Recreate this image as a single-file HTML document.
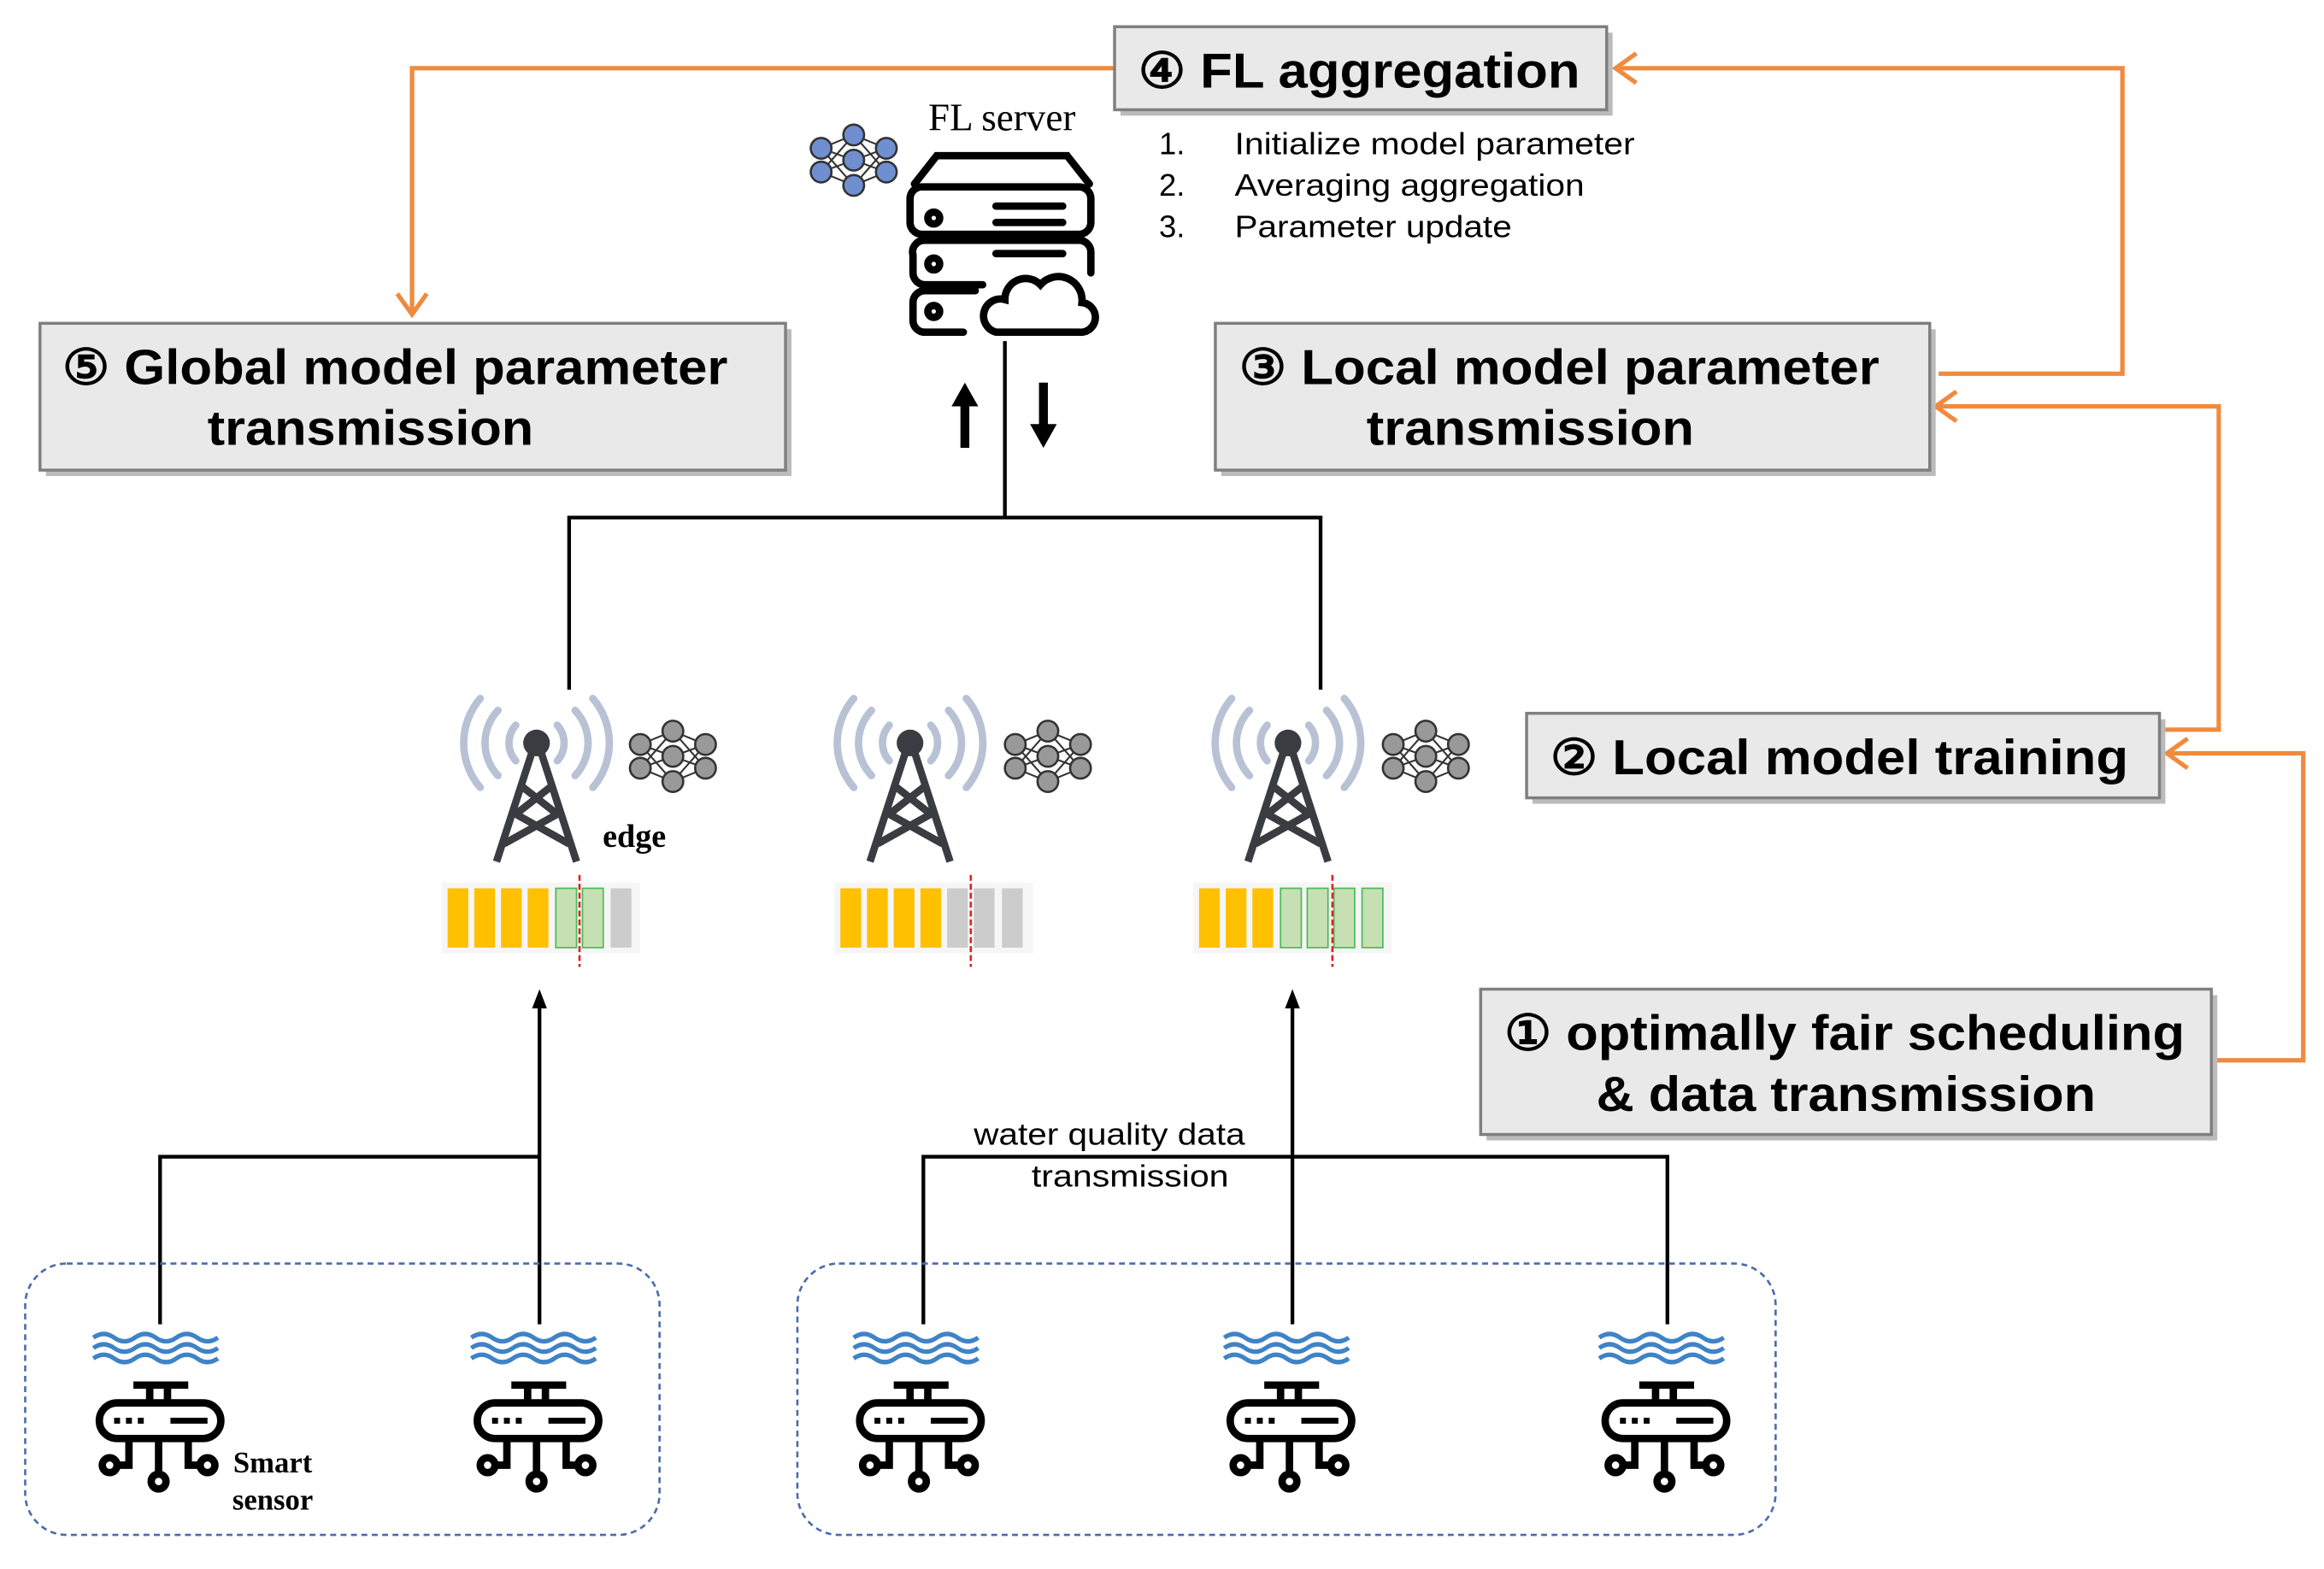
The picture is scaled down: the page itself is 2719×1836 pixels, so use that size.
<!DOCTYPE html>
<html><head><meta charset="utf-8"><style>
html,body{margin:0;padding:0;background:#fff;}
svg{display:block;}
.b{font-family:"Liberation Sans",sans-serif;font-weight:bold;fill:#000;}
.s{font-family:"Liberation Sans",sans-serif;fill:#000;}
.r{font-family:"Liberation Serif",serif;fill:#000;}
</style></head><body>
<svg width="2719" height="1836" viewBox="0 0 1568 1058" preserveAspectRatio="none" xmlns="http://www.w3.org/2000/svg">
<defs>
<g id="nn">
 <g stroke="#333" stroke-width="1.2">
  <line x1="-22" y1="-8" x2="0" y2="-17"/><line x1="-22" y1="-8" x2="0" y2="0"/><line x1="-22" y1="-8" x2="0" y2="17"/>
  <line x1="-22" y1="8" x2="0" y2="-17"/><line x1="-22" y1="8" x2="0" y2="0"/><line x1="-22" y1="8" x2="0" y2="17"/>
  <line x1="22" y1="-8" x2="0" y2="-17"/><line x1="22" y1="-8" x2="0" y2="0"/><line x1="22" y1="-8" x2="0" y2="17"/>
  <line x1="22" y1="8" x2="0" y2="-17"/><line x1="22" y1="8" x2="0" y2="0"/><line x1="22" y1="8" x2="0" y2="17"/>
 </g>
 <g stroke="#333" stroke-width="1.5">
  <circle cx="-22" cy="-8" r="7"/><circle cx="-22" cy="8" r="7"/>
  <circle cx="0" cy="-17" r="7"/><circle cx="0" cy="0" r="7"/><circle cx="0" cy="17" r="7"/>
  <circle cx="22" cy="-8" r="7"/><circle cx="22" cy="8" r="7"/>
 </g>
</g>
<g id="tower">
 <g fill="none" stroke="#b8c2d4" stroke-width="5" stroke-linecap="round">
  <path d="M-14,-12 A18,18 0 0 0 -14,12"/><path d="M14,-12 A18,18 0 0 1 14,12"/>
  <path d="M-26,-22 A32,32 0 0 0 -26,22"/><path d="M26,-22 A32,32 0 0 1 26,22"/>
  <path d="M-38,-30 A46,46 0 0 0 -38,30"/><path d="M38,-30 A46,46 0 0 1 38,30"/>
 </g>
 <circle cx="0" cy="0" r="9" fill="#3a3c42"/>
 <g stroke="#3a3c42" stroke-width="5" fill="none" stroke-linejoin="round">
  <path d="M-3,6 L-27,80 M3,6 L27,80"/>
  <path d="M-9,30 L14,48 M9,30 L-14,48 M-14,48 L22,68 M14,48 L-22,68"/>
 </g>
</g>
<g id="sensor">
 <g fill="none" stroke="#3f83c6" stroke-width="3">
  <path d="M-44,-62 q7,-5 14,0 t14,0 t14,0 t14,0 t14,0 t14,0"/>
  <path d="M-44,-55 q7,-5 14,0 t14,0 t14,0 t14,0 t14,0 t14,0"/>
  <path d="M-44,-48 q7,-5 14,0 t14,0 t14,0 t14,0 t14,0 t14,0"/>
 </g>
 <g fill="none" stroke="#000" stroke-width="5">
  <line x1="-17" y1="-30" x2="20" y2="-30"/>
  <line x1="-6" y1="-30" x2="-6" y2="-18"/><line x1="6" y1="-30" x2="6" y2="-18"/>
  <rect x="-40" y="-18" width="82" height="24" rx="12"/>
  <path d="M-20,6 V24 H-28"/><path d="M0,6 V30"/><path d="M20,6 V24 H28"/>
  <circle cx="-33" cy="24" r="5"/><circle cx="0" cy="35" r="5"/><circle cx="33" cy="24" r="5"/>
 </g>
 <g fill="#000"><rect x="-30" y="-8" width="4" height="4"/><rect x="-22" y="-8" width="4" height="4"/><rect x="-14" y="-8" width="4" height="4"/><rect x="8" y="-8" width="25" height="4"/></g>
</g>
</defs>

<g fill="none" stroke="#f08a3e" stroke-width="3">
 <path d="M752,46 H278 V212"/><path d="M268,198 L278,212 L288,198"/>
 <path d="M1308,252 H1432 V46 H1090"/><path d="M1104,36 L1090,46 L1104,56"/>
 <path d="M1458,492 H1497 V274 H1306"/><path d="M1320,264 L1306,274 L1320,284"/>
 <path d="M1492,715 H1554 V508 H1462"/><path d="M1476,498 L1462,508 L1476,518"/>
</g>

<g fill="#bbb"><rect x="756" y="22" width="332" height="56"/><rect x="31" y="222" width="503" height="99"/><rect x="824" y="222" width="482" height="99"/><rect x="1034" y="485" width="427" height="57"/><rect x="1003" y="671" width="493" height="98"/></g>
<g fill="#e9e9e9" stroke="#7f7f7f" stroke-width="2">
 <rect x="752" y="18" width="332" height="56"/><rect x="27" y="218" width="503" height="99"/><rect x="820" y="218" width="482" height="99"/><rect x="1030" y="481" width="427" height="57"/><rect x="999" y="667" width="493" height="98"/>
</g>
<g class="b" font-size="33" lengthAdjust="spacingAndGlyphs">
<text x="768" y="59" textLength="298" lengthAdjust="spacingAndGlyphs">④ FL aggregation</text>
<text x="42" y="259" textLength="449" lengthAdjust="spacingAndGlyphs">⑤ Global model parameter</text>
<text x="140" y="300" textLength="220" lengthAdjust="spacingAndGlyphs">transmission</text>
<text x="836" y="259" textLength="432" lengthAdjust="spacingAndGlyphs">③ Local model parameter</text>
<text x="922" y="300" textLength="221" lengthAdjust="spacingAndGlyphs">transmission</text>
<text x="1046" y="522" textLength="390" lengthAdjust="spacingAndGlyphs">② Local model training</text>
<text x="1015" y="708" textLength="459" lengthAdjust="spacingAndGlyphs">① optimally fair scheduling</text>
<text x="1077" y="749" textLength="337" lengthAdjust="spacingAndGlyphs">&amp; data transmission</text>
</g>

<g class="s" font-size="21"><text x="782" y="104">1.</text><text x="833" y="104" textLength="270" lengthAdjust="spacingAndGlyphs">Initialize model parameter</text>
<text x="782" y="132">2.</text><text x="833" y="132" textLength="236" lengthAdjust="spacingAndGlyphs">Averaging aggregation</text>
<text x="782" y="160">3.</text><text x="833" y="160" textLength="187" lengthAdjust="spacingAndGlyphs">Parameter update</text></g>

<text class="r" x="676" y="88" font-size="26" text-anchor="middle">FL server</text>
<g transform="translate(576,108)" fill="#6f8fd0"><use href="#nn"/></g>
<g fill="none" stroke="#000" stroke-width="5" stroke-linecap="round">
 <path d="M617,124 L632,105 H720 L735,124"/>
 <rect x="614" y="126" width="122" height="32" rx="8"/>
 <path d="M616,172 a8,8 0 0 1 8,-10 H728 a8,8 0 0 1 8,8 V184"/>
 <path d="M663,192 H624 a8,8 0 0 1 -8,-8 V172"/>
 <path d="M658,196 H624 a8,8 0 0 0 -8,8 V216 a8,8 0 0 0 8,8 H650"/>
 <circle cx="630" cy="147" r="4"/><circle cx="630" cy="178" r="4"/><circle cx="630" cy="210" r="4"/>
 <path d="M672,139 H717 M672,150 H717 M672,171 H717"/>
 <path d="M672,224 H728 a10,10 0 0 0 2,-20 a16,16 0 0 0 -28,-12 a14,14 0 0 0 -24,10 a11,11 0 0 0 -6,22 Z"/>
</g>
<g fill="#000"><rect x="648" y="272" width="6" height="30"/><path d="M642,274 L651,258 L660,274 Z"/>
<rect x="701" y="258" width="6" height="30"/><path d="M695,286 L704,302 L713,286 Z"/></g>

<g fill="none" stroke="#000" stroke-width="2.5">
 <path d="M678,230 V349 M384,465 V349 H891 V465"/>
 <path d="M364,893 V676 M108,893 V780 H364"/>
 <path d="M872,893 V676 M623,893 V780 H1125 V893"/>
</g>
<path d="M359,680 L364,667 L369,680 Z M867,680 L872,667 L877,680 Z" fill="#000"/>
<text class="s" x="657" y="772" font-size="21" textLength="183" lengthAdjust="spacingAndGlyphs">water quality data</text>
<text class="s" x="696" y="800" font-size="21" textLength="133" lengthAdjust="spacingAndGlyphs">transmission</text>

<use href="#tower" transform="translate(362,501)"/>
<use href="#tower" transform="translate(614,501)"/>
<use href="#tower" transform="translate(869,501)"/>
<g fill="#999"><use href="#nn" transform="translate(454,510)"/><use href="#nn" transform="translate(707,510)"/><use href="#nn" transform="translate(962,510)"/></g>
<text class="r" x="428" y="571" font-size="22" font-weight="bold" text-anchor="middle">edge</text>

<g>
 <rect x="298" y="595" width="134" height="48" fill="#f6f6f6"/>
 <rect x="302" y="599" width="14" height="40" fill="#ffc000"/><rect x="320" y="599" width="14" height="40" fill="#ffc000"/><rect x="338" y="599" width="14" height="40" fill="#ffc000"/><rect x="356" y="599" width="14" height="40" fill="#ffc000"/>
 <rect x="375" y="599" width="14" height="40" fill="#c6e0b4" stroke="#4cbb5a"/><rect x="393" y="599" width="14" height="40" fill="#c6e0b4" stroke="#4cbb5a"/><rect x="412" y="599" width="14" height="40" fill="#ccc"/>
 <line x1="391" y1="590" x2="391" y2="652" stroke="#e02020" stroke-width="1.5" stroke-dasharray="4,2"/>
 <rect x="563" y="595" width="134" height="48" fill="#f6f6f6"/>
 <rect x="567" y="599" width="14" height="40" fill="#ffc000"/><rect x="585" y="599" width="14" height="40" fill="#ffc000"/><rect x="603" y="599" width="14" height="40" fill="#ffc000"/><rect x="621" y="599" width="14" height="40" fill="#ffc000"/>
 <rect x="639" y="599" width="14" height="40" fill="#ccc"/><rect x="657" y="599" width="14" height="40" fill="#ccc"/><rect x="676" y="599" width="14" height="40" fill="#ccc"/>
 <line x1="655" y1="590" x2="655" y2="652" stroke="#e02020" stroke-width="1.5" stroke-dasharray="4,2"/>
 <rect x="805" y="595" width="134" height="48" fill="#f6f6f6"/>
 <rect x="809" y="599" width="14" height="40" fill="#ffc000"/><rect x="827" y="599" width="14" height="40" fill="#ffc000"/><rect x="845" y="599" width="14" height="40" fill="#ffc000"/>
 <rect x="864" y="599" width="14" height="40" fill="#c6e0b4" stroke="#4cbb5a"/><rect x="882" y="599" width="14" height="40" fill="#c6e0b4" stroke="#4cbb5a"/><rect x="900" y="599" width="14" height="40" fill="#c6e0b4" stroke="#4cbb5a"/><rect x="919" y="599" width="14" height="40" fill="#c6e0b4" stroke="#4cbb5a"/>
 <line x1="899" y1="590" x2="899" y2="652" stroke="#e02020" stroke-width="1.5" stroke-dasharray="4,2"/>
</g>

<g fill="none" stroke="#4a6bab" stroke-width="1.5" stroke-dasharray="4,3">
 <rect x="17" y="852" width="428" height="183" rx="28"/>
 <rect x="538" y="852" width="660" height="183" rx="28"/>
</g>
<use href="#sensor" transform="translate(107,964)"/>
<use href="#sensor" transform="translate(362,964)"/>
<use href="#sensor" transform="translate(620,964)"/>
<use href="#sensor" transform="translate(870,964)"/>
<use href="#sensor" transform="translate(1123,964)"/>
<text class="r" x="184" y="993" font-size="20" font-weight="bold" text-anchor="middle">Smart</text>
<text class="r" x="184" y="1018" font-size="20" font-weight="bold" text-anchor="middle">sensor</text>
</svg>
</body></html>
